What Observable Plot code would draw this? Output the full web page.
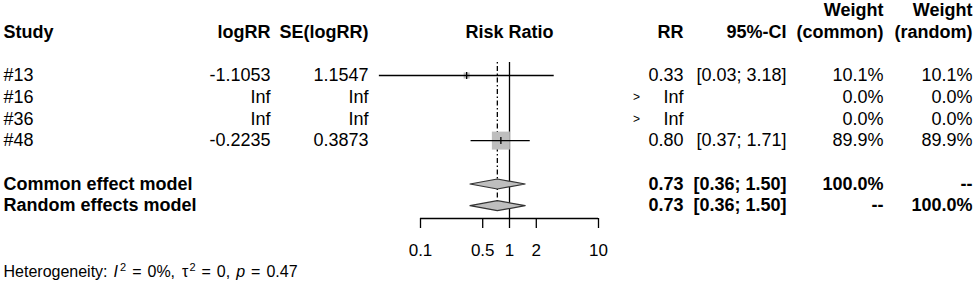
<!DOCTYPE html>
<html><head><meta charset="utf-8">
<script src="https://cdn.jsdelivr.net/npm/d3@7"></script>
<script src="https://cdn.jsdelivr.net/npm/@observablehq/plot@0.6"></script>
<style>
html,body{margin:0;padding:0;background:#fff;}
</style></head><body><div id="chart"></div>
<script>
// ---- data ----
const studies = ["#13", "#16", "#36", "#48"];
const logRRLabels = ["-1.1053", "Inf", "Inf", "-0.2235"];
const seLabels = ["1.1547", "Inf", "Inf", "0.3873"];
const rr = [0.33, Infinity, Infinity, 0.80];
const rrLabels = ["0.33", "Inf", "Inf", "0.80"];
const ciLower = [0.0345, null, null, 0.37];
const ciUpper = [3.18, null, null, 1.71];
const ciLabels = ["[0.03; 3.18]", "", "", "[0.37; 1.71]"];
const weightCommon = [10.1, 0.0, 0.0, 89.9];
const weightRandom = [10.1, 0.0, 0.0, 89.9];

const models = ["Common effect model", "Random effects model"];
const modelRR = [0.73, 0.73];
const modelLower = [0.36, 0.36];
const modelUpper = [1.50, 1.50];
const modelRRLabels = ["0.73", "0.73"];
const modelCILabels = ["[0.36; 1.50]", "[0.36; 1.50]"];
const modelWeightCommon = ["100.0%", "--"];
const modelWeightRandom = ["--", "100.0%"];

const headerTop = ["Weight", "Weight"];
const headerMain = ["Study", "logRR", "SE(logRR)", "Risk Ratio", "RR", "95%-CI", "(common)", "(random)"];
const xTicks = [0.1, 0.5, 1, 2, 10];
const nullValue = [1];
const pooledLine = [0.73];
const hetLabel = "Heterogeneity: I2 = 0%, t2 = 0, p = 0.47";
const hetParts = [
  {t: "Heterogeneity:", gap: 0}, {t: "I", italic: true, gap: 6}, {t: "2", sup: true, gap: 2},
  {t: "=", gap: 6}, {t: "0%,", gap: 6}, {t: "\u03c4", gap: 7}, {t: "2", sup: true, gap: 1},
  {t: "=", gap: 6}, {t: "0,", gap: 6}, {t: "p", italic: true, gap: 6}, {t: "=", gap: 6}, {t: "0.47", gap: 6}
];

// ---- layout (styles / positions) ----
const FS = 18;
const col = {study: -417, logRR: -150, se: -52, gt: 216, rr: 263, ci: 366, wc: 463, wr: 552};
const rowStudy = studies.map((_, i) => i);
const rowModel = [5, 6];
const rowHeaderTop = -3, rowHeader = -2, rowHet = 9.06, rowAxis = 6.59, rowTop = -0.6;
const H = 0.23;

const studyRows = studies.map((s, i) => ({
  row: rowStudy[i], study: s, logRR: logRRLabels[i], se: seLabels[i],
  rr: rr[i], rrLabel: rrLabels[i], lo: ciLower[i], hi: ciUpper[i], ci: ciLabels[i],
  wc: weightCommon[i], wr: weightRandom[i],
  wcLabel: weightCommon[i].toFixed(1) + "%", wrLabel: weightRandom[i].toFixed(1) + "%"
}));
const finiteRows = studyRows.filter(d => isFinite(d.rr));
const infRows = studyRows.filter(d => !isFinite(d.rr));
const modelRows = models.map((m, i) => ({
  row: rowModel[i], model: m, rr: modelRR[i], lo: modelLower[i], hi: modelUpper[i],
  rrLabel: modelRRLabels[i], ci: modelCILabels[i], wc: modelWeightCommon[i], wr: modelWeightRandom[i]
}));
const diamonds = modelRows.flatMap(d => [
  {model: d.model, x: d.lo, y: d.row}, {model: d.model, x: d.rr, y: d.row - H},
  {model: d.model, x: d.hi, y: d.row}, {model: d.model, x: d.rr, y: d.row + H},
  {model: d.model, x: d.lo, y: d.row}
]);

const headerPos = [col.study, col.logRR, col.se, null, col.rr, col.ci, col.wc, col.wr];
const headerRows = headerMain.map((h, i) => ({text: h, dx: headerPos[i], row: rowHeader}));
const headerTopRows = headerTop.map((h, i) => ({text: h, dx: [col.wc, col.wr][i], row: rowHeaderTop}));

const tickSymbol = {draw(ctx, size) { const r = Math.sqrt(size / Math.PI); ctx.moveTo(0, -r); ctx.lineTo(0, r); }};

function txt(data, text, dx, opts = {}) {
  return Plot.text(data, {y: "row", text, frameAnchor: "left", dx, textAnchor: "end", fontSize: FS, fill: "#000", ...opts});
}

const marks = [
  // header
  ...headerRows.map(h => h.dx === null
    ? Plot.text([h], {y: "row", text: "text", frameAnchor: "middle", textAnchor: "middle", fontSize: FS, fontWeight: "bold"})
    : txt([h], "text", h.dx, {textAnchor: h.dx === col.study ? "start" : "end", fontWeight: "bold"})),
  ...headerTopRows.map(h => txt([h], "text", h.dx, {fontWeight: "bold"})),
  // study table
  txt(studyRows, "study", col.study, {textAnchor: "start"}),
  txt(studyRows, "logRR", col.logRR),
  txt(studyRows, "se", col.se),
  txt(studyRows, "rrLabel", col.rr),
  txt(infRows, () => ">", col.gt, {textAnchor: "middle", fontSize: 12}),
  txt(studyRows, "ci", col.ci),
  txt(studyRows, "wcLabel", col.wc),
  txt(studyRows, "wrLabel", col.wr),
  // model table
  txt(modelRows, "model", col.study, {textAnchor: "start", fontWeight: "bold"}),
  txt(modelRows, "rrLabel", col.rr, {fontWeight: "bold"}),
  txt(modelRows, "ci", col.ci, {fontWeight: "bold"}),
  txt(modelRows, "wc", col.wc, {fontWeight: "bold"}),
  txt(modelRows, "wr", col.wr, {fontWeight: "bold"}),
  // reference lines
  Plot.ruleX(nullValue, {x: d => d, y1: () => rowTop, y2: () => rowAxis, stroke: "#000", strokeWidth: 1.3}),
  Plot.ruleX(pooledLine, {x: d => d, y1: () => rowTop, y2: () => rowModel[1] + H, stroke: "#000", strokeWidth: 1.3, strokeDasharray: "1.5,2.5,5,2.5"}),
  // study boxes and CIs
  Plot.dot(finiteRows, {x: "rr", y: "row", r: "wc", symbol: "square", fill: "#bebebe", stroke: "none"}),
  Plot.ruleY(finiteRows, {y: "row", x1: "lo", x2: "hi", stroke: "#000", strokeWidth: 1.3}),
  Plot.dot(finiteRows, {x: "rr", y: "row", r: 3.5, symbol: tickSymbol, stroke: "#000", strokeWidth: 1.3, fill: "none"}),
  // diamonds
  Plot.line(diamonds, {x: "x", y: "y", z: "model", fill: "#bebebe", stroke: "#333", strokeWidth: 1.2}),
  // axis
  Plot.ruleY([rowAxis], {y: d => d, x1: () => xTicks[0], x2: () => xTicks[xTicks.length - 1], stroke: "#000", strokeWidth: 1.3}),
  Plot.axisX({ticks: xTicks, tickFormat: d => String(d), anchor: "bottom", tickSize: 10, tickPadding: 15, fontSize: 17, strokeWidth: 1.3, label: null}),
  // heterogeneity
  Plot.text([hetLabel], {text: d => d, y: () => rowHet, frameAnchor: "left", dx: col.study, textAnchor: "start", fontSize: 16})
];

const chart = Plot.plot({
  width: 975, height: 285,
  marginLeft: 420, marginRight: 377, marginTop: 0, marginBottom: 67,
  style: {fontFamily: "'Liberation Sans', Arial, Helvetica, sans-serif", color: "#000", background: "#fff"},
  x: {type: "log", domain: [0.1, 10], axis: null},
  y: {type: "linear", domain: [0, 6], range: [75, 75 + 6 * 21.7], axis: null},
  r: {type: "sqrt", domain: [0, 89.9], range: [0, 10.16]},
  marks
});

// rich text for heterogeneity line
chart.querySelectorAll("text").forEach(t => {
  if (t.textContent === hetLabel) {
    t.textContent = "";
    const ns = "http://www.w3.org/2000/svg";
    let shifted = false;
    hetParts.forEach(p => {
      const s = document.createElementNS(ns, "tspan");
      s.textContent = p.t;
      s.setAttribute("dx", p.gap);
      if (p.italic) s.setAttribute("font-style", "italic");
      if (p.sup) { s.setAttribute("font-size", "11"); s.setAttribute("dy", "-6"); shifted = true; }
      else if (shifted) { s.setAttribute("dy", "6"); shifted = false; }
      t.appendChild(s);
    });
  }
});
document.getElementById("chart").appendChild(chart);
</script></body></html>
